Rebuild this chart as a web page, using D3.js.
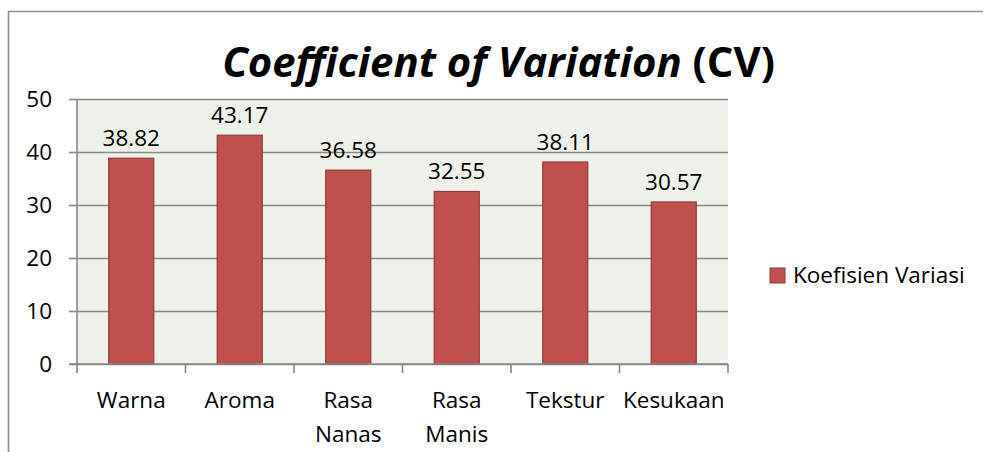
<!DOCTYPE html>
<html lang="id">
<head>
<meta charset="UTF-8">
<title>Coefficient of Variation (CV)</title>
<script src="https://d3js.org/d3.v7.min.js"></script>
<style>
  body { margin: 0; background: #fff; }
  text { font-family: "Open Sans", "Noto Sans", sans-serif; fill: #000; }
</style>
</head>
<body>
<svg id="chart"></svg>
<script>
// data
const categories = ["Warna", "Aroma", "Rasa Nanas", "Rasa Manis", "Tekstur", "Kesukaan"];
const cvValues = [38.82, 43.17, 36.58, 32.55, 38.11, 30.57];
const yTicks = [0, 10, 20, 30, 40, 50];
const seriesName = "Koefisien Variasi";

const width = 983, height = 452;
const plot = { left: 77, right: 728, top: 99, bottom: 364 };
const labelSize = 22.5;

const svg = d3.select("#chart").attr("width", width).attr("height", height);

// outer chart frame (only top and left edges visible in the crop)
svg.append("path")
   .attr("d", `M8.5,${height} V11.5 H${width}`)
   .attr("fill", "none")
   .attr("stroke", "#8c8c8c")
   .attr("stroke-width", 1.6);

const x = d3.scaleBand()
            .domain(categories)
            .range([plot.left, plot.right])
            .paddingInner(0.585)
            .paddingOuter(0.2925);

const y = d3.scaleLinear()
            .domain([0, 50])
            .range([plot.bottom, plot.top]);

// plot background
svg.append("rect")
   .attr("x", plot.left).attr("y", plot.top)
   .attr("width", plot.right - plot.left)
   .attr("height", plot.bottom - plot.top)
   .attr("fill", "#eef1e9");

// y axis with gridlines
const yAxis = svg.append("g")
   .attr("transform", `translate(${plot.left},0)`)
   .call(d3.axisLeft(y).tickValues(yTicks).tickSize(8).tickPadding(17));
yAxis.select(".domain").remove();
yAxis.selectAll(".tick line").attr("stroke", "#878787").attr("stroke-width", 1.6);
yAxis.selectAll(".tick text")
     .attr("font-size", labelSize)
     .attr("font-family", "Open Sans")
     .attr("fill", "#000");
yAxis.selectAll(".tick")
     .append("line")
     .attr("x1", 0).attr("x2", plot.right - plot.left)
     .attr("stroke", "#878787").attr("stroke-width", 1.6);
svg.append("line")
   .attr("x1", plot.left).attr("x2", plot.left)
   .attr("y1", plot.top).attr("y2", plot.bottom)
   .attr("stroke", "#878787").attr("stroke-width", 1.6);

// bars
svg.selectAll(".bar")
   .data(cvValues)
   .enter()
   .append("rect")
   .attr("class", "bar")
   .attr("x", (d, i) => x(categories[i]))
   .attr("y", d => y(d))
   .attr("width", x.bandwidth())
   .attr("height", d => y(0) - y(d))
   .attr("fill", "#c0504d")
   .attr("stroke", "#8e3b39")
   .attr("stroke-width", 1.2);

// value labels
svg.selectAll(".val")
   .data(cvValues)
   .enter()
   .append("text")
   .attr("class", "val")
   .attr("x", (d, i) => x(categories[i]) + x.bandwidth() / 2)
   .attr("y", d => y(d) - 12)
   .attr("text-anchor", "middle")
   .attr("font-size", labelSize)
   .text(d => d.toFixed(2));

// x axis: ticks at band boundaries
const step = x.step();
const boundaries = d3.range(categories.length + 1).map(i => plot.left + i * step);
svg.append("line")
   .attr("x1", plot.left - 8).attr("x2", plot.right)
   .attr("y1", plot.bottom).attr("y2", plot.bottom)
   .attr("stroke", "#878787").attr("stroke-width", 1.6);
svg.selectAll(".xtick")
   .data(boundaries)
   .enter()
   .append("line")
   .attr("x1", d => d).attr("x2", d => d)
   .attr("y1", plot.bottom).attr("y2", plot.bottom + 9)
   .attr("stroke", "#878787").attr("stroke-width", 1.6);

const catLabels = svg.selectAll(".cat")
   .data(categories)
   .enter()
   .append("text")
   .attr("class", "cat")
   .attr("text-anchor", "middle")
   .attr("font-size", labelSize);
catLabels.each(function(d) {
  const cx = x(d) + x.bandwidth() / 2;
  d.split(" ").forEach((w, k) => {
    d3.select(this).append("tspan")
      .attr("x", cx)
      .attr("y", 408 + k * 33.5)
      .text(w);
  });
});

// title
const title = svg.append("text")
   .attr("x", 498.5)
   .attr("y", 77)
   .attr("text-anchor", "middle")
   .attr("font-weight", "bold")
   .attr("font-size", 40);
title.append("tspan").attr("font-style", "italic").text("Coefficient of Variation");
title.append("tspan").text(" (CV)");
const tw = title.node().getComputedTextLength();
title.attr("font-size", 40 * 553 / tw);

// legend
const legend = svg.append("g").attr("transform", "translate(770,268)");
legend.append("rect")
      .attr("width", 15).attr("height", 15)
      .attr("fill", "#c0504d")
      .attr("stroke", "#8e3b39")
      .attr("stroke-width", 1);
legend.append("text")
      .attr("x", 23).attr("y", 15)
      .attr("font-size", labelSize)
      .text(seriesName);
</script>
</body>
</html>
